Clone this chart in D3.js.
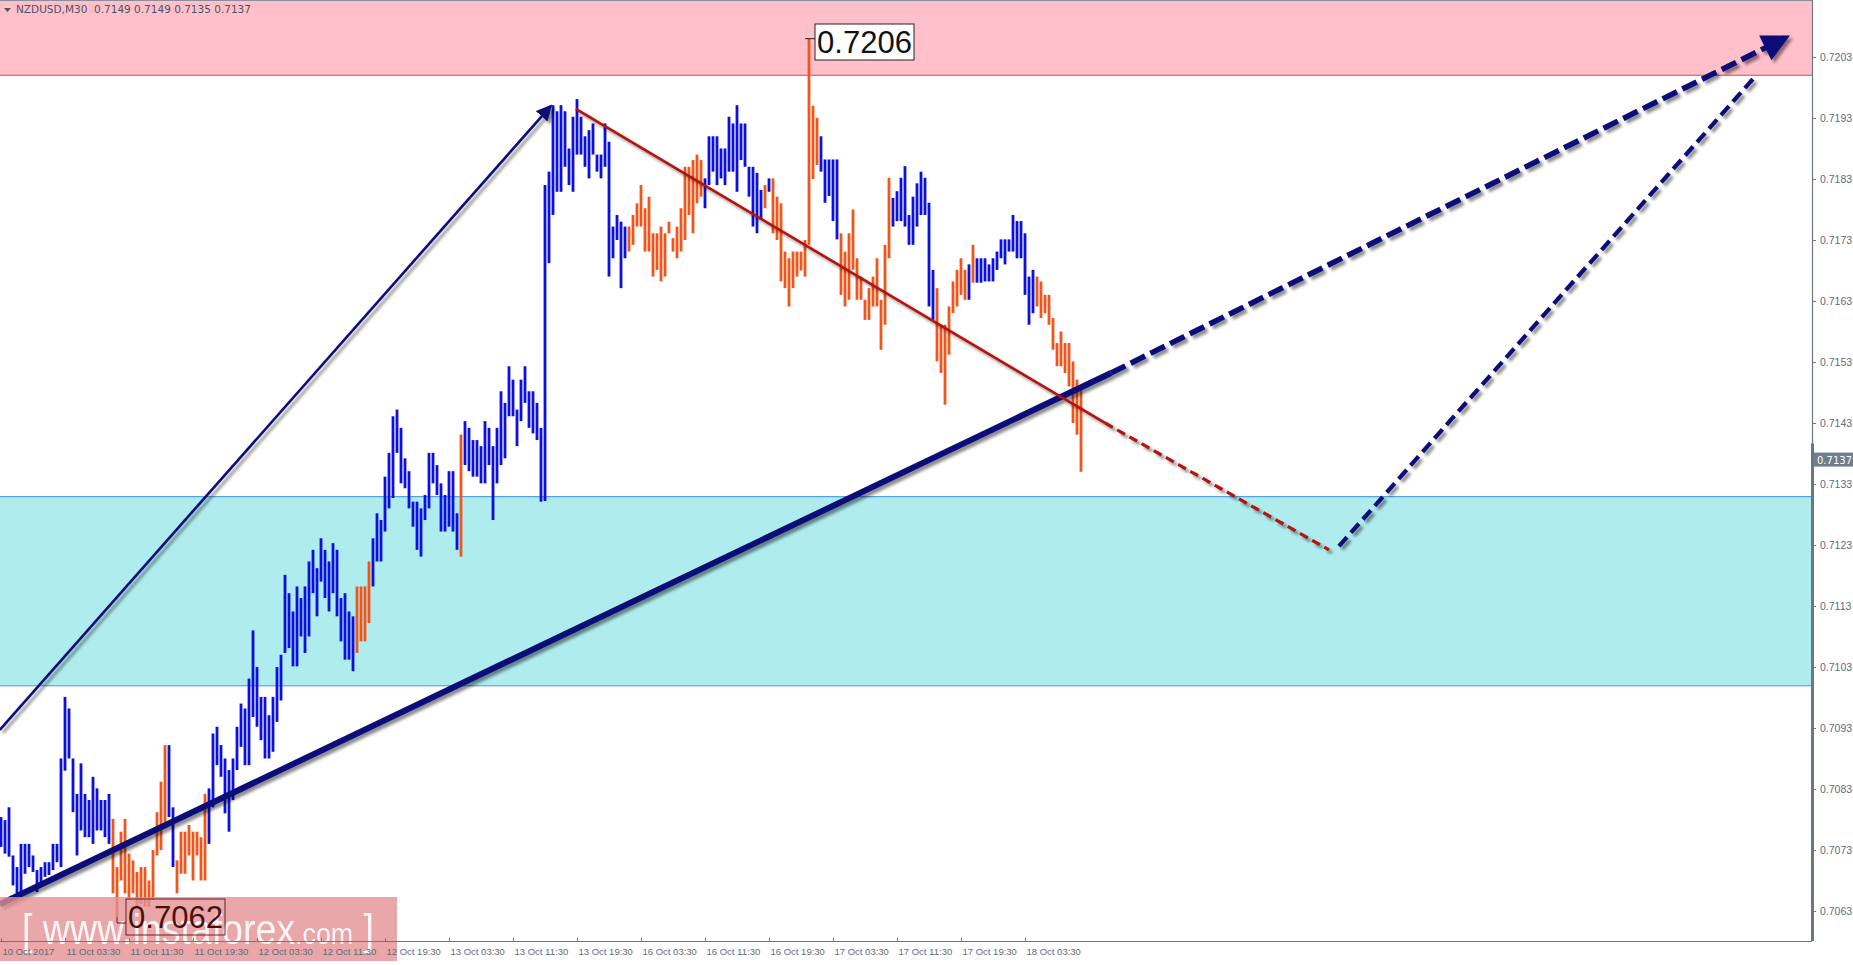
<!DOCTYPE html>
<html>
<head>
<meta charset="utf-8">
<script src="https://cdn.jsdelivr.net/npm/d3@7"></script>
<style>
  html, body { margin: 0; padding: 0; background: #fff; overflow: hidden; }
  svg { display: block; font-family: "DejaVu Sans", sans-serif; }
</style>
</head>
<body>
<div class="chart"></div>
<script>
const w = 1853;
const h = 965;
const plotRight = 1812;
const plotBottom = 941;

// bar highs / lows in pips (0.7078 -> 7078), M30 NZDUSD
const highs = [
  7078.4, 7077.9, 7080.0, 7072.1, 7070.2, 7074.0, 7074.0, 7074.0, 7072.1, 7069.7,
  7070.2, 7071.0, 7071.0, 7074.0, 7074.0, 7088.0, 7098.1, 7096.2, 7088.0, 7082.2,
  7087.2, 7082.2, 7081.2, 7085.0, 7083.1, 7081.2, 7081.2, 7082.2, 7078.1, 7070.2,
  7076.0, 7078.1, 7072.4, 7071.3, 7069.4, 7070.2, 7070.2, 7068.0, 7073.0, 7079.2,
  7084.2, 7090.2, 7090.2, 7080.0, 7071.3, 7076.0, 7076.0, 7077.1, 7076.0, 7076.0,
  7075.1, 7082.2, 7083.1, 7092.1, 7093.2, 7090.2, 7088.0, 7086.1, 7088.0, 7093.2,
  7097.0, 7096.2, 7101.1, 7109.0, 7103.0, 7098.1, 7098.1, 7095.1, 7098.1, 7103.0,
  7105.0, 7118.1, 7115.1, 7112.1, 7116.2, 7114.3, 7116.2, 7120.3, 7122.2, 7119.2,
  7124.1, 7122.2, 7120.3, 7123.3, 7122.2, 7114.3, 7115.1, 7112.1, 7111.3, 7116.2,
  7116.2, 7116.2, 7120.3, 7124.1, 7128.2, 7127.1, 7134.2, 7138.1, 7144.1, 7145.2,
  7142.2, 7137.2, 7135.1, 7130.1, 7130.1, 7129.0, 7131.2, 7138.1, 7138.1, 7136.1,
  7133.1, 7131.2, 7135.1, 7135.1, 7128.2, 7141.1, 7143.3, 7142.2, 7140.2, 7140.2,
  7139.2, 7143.3, 7142.2, 7139.2, 7142.2, 7148.2, 7146.3, 7152.3, 7150.1, 7145.2,
  7150.1, 7152.3, 7148.2, 7148.2, 7146.3, 7142.2, 7182.0, 7184.2, 7195.1, 7194.1,
  7195.1, 7194.1, 7188.0, 7193.2, 7196.1, 7193.2, 7190.0, 7191.0, 7192.1, 7187.0,
  7187.0, 7192.1, 7189.1, 7175.2, 7177.1, 7176.0, 7175.2, 7175.2, 7177.1, 7179.0,
  7182.0, 7178.2, 7180.1, 7174.1, 7174.1, 7175.2, 7174.1, 7176.0, 7173.3, 7175.2,
  7178.2, 7185.0, 7185.0, 7186.1, 7187.0, 7186.1, 7183.1, 7190.0, 7190.0, 7190.0,
  7188.0, 7188.0, 7193.2, 7192.1, 7195.1, 7192.1, 7192.1, 7185.0, 7185.0, 7184.0,
  7181.2, 7182.0, 7183.1, 7183.1, 7180.1, 7179.0, 7171.1, 7170.0, 7171.1, 7171.1,
  7171.1, 7173.0, 7206.0, 7195.0, 7193.0, 7190.0, 7186.2, 7186.2, 7186.2, 7186.2,
  7174.1, 7171.1, 7174.1, 7178.0, 7170.0, 7167.0, 7163.2, 7165.1, 7167.0, 7170.0,
  7163.2, 7172.2, 7183.2, 7179.9, 7181.0, 7183.2, 7185.1, 7177.1, 7180.1, 7182.3,
  7184.2, 7183.2, 7179.1, 7168.1, 7165.1, 7159.1, 7159.1, 7162.1, 7166.2, 7168.1,
  7170.0, 7168.1, 7169.0, 7172.2, 7170.0, 7170.0, 7170.0, 7169.0, 7170.0, 7171.1,
  7173.1, 7173.1, 7173.1, 7177.1, 7176.1, 7176.1, 7174.1, 7167.0, 7168.1, 7167.0,
  7166.2, 7164.0, 7164.0, 7160.2, 7156.1, 7158.0, 7156.1, 7156.1, 7153.1, 7150.1,
  7149.0
];
const lows = [
  7073.5, 7072.4, 7071.9, 7067.2, 7065.9, 7065.9, 7069.1, 7070.2, 7069.4, 7066.1,
  7067.5, 7068.6, 7068.9, 7069.7, 7071.0, 7070.2, 7086.0, 7088.0, 7079.2, 7072.1,
  7076.2, 7075.1, 7075.1, 7074.0, 7076.2, 7076.2, 7075.1, 7074.0, 7065.9, 7062.0,
  7068.0, 7065.9, 7064.8, 7065.9, 7063.7, 7064.2, 7063.7, 7063.7, 7064.8, 7072.1,
  7073.0, 7077.3, 7078.4, 7070.2, 7065.9, 7069.1, 7069.1, 7072.1, 7068.0, 7072.1,
  7068.0, 7068.0, 7074.0, 7080.0, 7086.9, 7085.0, 7079.0, 7076.0, 7081.2, 7086.1,
  7089.9, 7086.9, 7086.9, 7094.8, 7093.2, 7091.0, 7088.0, 7088.0, 7089.1, 7094.0,
  7097.5, 7105.3, 7106.1, 7103.1, 7103.1, 7108.0, 7105.3, 7108.0, 7115.1, 7111.3,
  7117.0, 7114.3, 7112.1, 7115.1, 7111.3, 7107.2, 7104.2, 7104.2, 7102.3, 7105.3,
  7107.2, 7107.2, 7110.2, 7116.2, 7120.3, 7120.3, 7125.2, 7129.0, 7130.7, 7138.1,
  7133.1, 7132.3, 7129.0, 7126.0, 7122.2, 7121.1, 7127.1, 7129.0, 7133.1, 7131.2,
  7125.2, 7125.2, 7126.0, 7125.2, 7122.2, 7121.1, 7136.1, 7135.1, 7134.2, 7134.2,
  7133.1, 7133.1, 7136.1, 7127.1, 7133.1, 7136.1, 7137.2, 7144.1, 7144.1, 7139.2,
  7143.3, 7146.3, 7142.2, 7141.3, 7140.2, 7130.1, 7130.2, 7169.2, 7177.1, 7180.9,
  7180.9, 7185.0, 7182.0, 7180.9, 7187.0, 7187.0, 7185.0, 7183.1, 7187.0, 7184.2,
  7183.1, 7185.0, 7167.0, 7170.0, 7173.0, 7165.1, 7170.0, 7171.1, 7172.2, 7175.2,
  7175.2, 7171.1, 7171.1, 7167.0, 7168.1, 7166.2, 7167.0, 7174.1, 7171.1, 7170.0,
  7171.1, 7173.0, 7177.1, 7174.1, 7179.0, 7180.1, 7178.2, 7182.0, 7184.2, 7182.0,
  7183.1, 7182.0, 7184.2, 7184.2, 7180.9, 7186.1, 7185.0, 7180.1, 7175.2, 7174.1,
  7176.3, 7178.2, 7180.9, 7174.1, 7173.0, 7166.2, 7165.1, 7162.1, 7165.1, 7167.0,
  7168.0, 7167.0, 7172.2, 7183.0, 7185.3, 7184.2, 7179.1, 7180.2, 7176.1, 7173.1,
  7164.0, 7162.1, 7163.2, 7168.1, 7163.2, 7163.2, 7159.9, 7159.9, 7162.1, 7162.1,
  7155.0, 7159.1, 7170.0, 7175.2, 7176.1, 7176.1, 7175.2, 7172.2, 7172.2, 7175.2,
  7177.1, 7177.1, 7162.1, 7159.9, 7153.1, 7151.2, 7146.0, 7154.2, 7161.0, 7162.1,
  7164.0, 7163.2, 7163.2, 7166.0, 7166.0, 7166.0, 7166.2, 7166.2, 7166.2, 7168.1,
  7170.0, 7169.0, 7171.1, 7171.1, 7170.0, 7170.0, 7164.0, 7159.1, 7161.0, 7162.1,
  7160.2, 7161.0, 7159.1, 7155.0, 7152.3, 7152.3, 7151.2, 7149.0, 7143.0, 7141.1,
  7135.0
];
// runs of bar direction: [count, up/down]
const dirRuns = [
  [28, "u"], [14, "d"], [2, "u"], [8, "d"], [37, "u"], [4, "d"], [22, "u"], [1, "d"],
  [41, "u"], [19, "d"], [15, "u"], [1, "d"], [1, "u"], [12, "d"], [5, "u"], [13, "d"],
  [11, "u"], [8, "d"], [1, "u"], [1, "d"], [15, "u"], [12, "d"]
];

const priceTicks = [0.7203, 0.7193, 0.7183, 0.7173, 0.7163, 0.7153, 0.7143, 0.7133,
  0.7123, 0.7113, 0.7103, 0.7093, 0.7083, 0.7073, 0.7063];
const timeLabels = ["10 Oct 2017", "11 Oct 03:30", "11 Oct 11:30", "11 Oct 19:30",
  "12 Oct 03:30", "12 Oct 11:30", "12 Oct 19:30", "13 Oct 03:30", "13 Oct 11:30",
  "13 Oct 19:30", "16 Oct 03:30", "16 Oct 11:30", "16 Oct 19:30", "17 Oct 03:30",
  "17 Oct 11:30", "17 Oct 19:30", "18 Oct 03:30"];
const labelEvery = 16; // bars between time labels

// zones
const resistZone = [0.7200, 0.72124];
const supportZone = [0.7100, 0.7131];
const lastPrice = 0.7137;
const highMark = { bar: 202, price: 0.7206 };
const lowMark = { bar: 29, price: 0.7062 };

// wave lines: [bar index, price]
const waveUp = [[-0.3, 0.70927], [137.5, 0.7195]];
const trendLine = [[-0.3, 0.70641], [277.5, 0.71512]];
const trendDash = [[277.5, 0.71512], [446, 0.72061]];
const redLine = [[143.7, 0.71945], [276, 0.7143]];
const redDash = [[276, 0.7143], [332, 0.71222]];
const blueDash = [[334.5, 0.71228], [438, 0.71994]];

const x = d3.scaleLinear().domain([0, 452.75]).range([1, plotRight]);
const y = d3.scaleLinear().domain([0.705808, 0.721234]).range([plotBottom, 0]);

const svg = d3.select(".chart").append("svg").attr("width", w).attr("height", h);

const defs = svg.append("defs");
const sh = defs.append("filter").attr("id", "shadow")
  .attr("x", "-10%").attr("y", "-10%").attr("width", "130%").attr("height", "130%");
sh.append("feDropShadow").attr("dx", 3).attr("dy", 3).attr("stdDeviation", 1.8)
  .attr("flood-color", "#000").attr("flood-opacity", 0.45);
defs.append("clipPath").attr("id", "plot").append("rect")
  .attr("x", 0).attr("y", 0).attr("width", plotRight).attr("height", plotBottom);

const plot = svg.append("g").attr("clip-path", "url(#plot)");

// zones
plot.append("rect").attr("x", 0).attr("width", plotRight)
  .attr("y", y(resistZone[1])).attr("height", y(resistZone[0]) - y(resistZone[1]))
  .attr("fill", "#ffc0cb");
plot.append("line").attr("x1", 0).attr("x2", plotRight)
  .attr("y1", y(resistZone[0])).attr("y2", y(resistZone[0]))
  .attr("stroke", "#e8453c").attr("stroke-width", 1);
plot.append("rect").attr("x", 0).attr("width", plotRight)
  .attr("y", y(supportZone[1])).attr("height", y(supportZone[0]) - y(supportZone[1]))
  .attr("fill", "#afecee");
supportZone.forEach((p) => {
  plot.append("line").attr("x1", 0).attr("x2", plotRight)
    .attr("y1", y(p) + 0.5).attr("y2", y(p) + 0.5)
    .attr("stroke", "#3c93e0").attr("stroke-width", 1);
});

// bars
const dirs = dirRuns.flatMap(([n, d]) => Array(n).fill(d));
const bars = highs.map((hi, i) => ({ i, hi: hi / 10000, lo: lows[i] / 10000, d: dirs[i] }));
plot.append("g").selectAll("line").data(bars).join("line")
  .attr("x1", (d) => x(d.i)).attr("x2", (d) => x(d.i))
  .attr("y1", (d) => y(d.hi)).attr("y2", (d) => y(d.lo))
  .attr("stroke", (d) => (d.d === "u" ? "#0b10e0" : "#f0561c"))
  .attr("stroke-width", 2.8);

// wave lines
const line = d3.line().x((d) => x(d[0])).y((d) => y(d[1]));
const navy = "#0a0a78";
defs.append("marker").attr("id", "headSmall").attr("viewBox", "0 0 10 10")
  .attr("refX", 9).attr("refY", 5).attr("markerWidth", 6).attr("markerHeight", 6)
  .attr("markerUnits", "strokeWidth").attr("orient", "auto")
  .append("path").attr("d", "M0,0 L10,5 L0,10 z").attr("fill", navy);
defs.append("marker").attr("id", "headBig").attr("viewBox", "0 0 10 10")
  .attr("refX", 8).attr("refY", 5).attr("markerWidth", 5.5).attr("markerHeight", 5)
  .attr("markerUnits", "strokeWidth").attr("orient", "auto")
  .append("path").attr("d", "M0,0 L10,5 L0,10 z").attr("fill", navy);

const lines = svg.append("g").attr("filter", "url(#shadow)").attr("fill", "none");
lines.append("path").attr("d", line(waveUp)).attr("stroke", navy)
  .attr("stroke-width", 2.6).attr("marker-end", "url(#headSmall)");
lines.append("path").attr("d", line(trendLine)).attr("stroke", navy).attr("stroke-width", 6);
lines.append("path").attr("d", line(trendDash)).attr("stroke", navy)
  .attr("stroke-width", 5.5).attr("stroke-dasharray", "16,6").attr("marker-end", "url(#headBig)");
lines.append("path").attr("d", line(redLine)).attr("stroke", "#b3120f").attr("stroke-width", 2.6);
lines.append("path").attr("d", line(redDash)).attr("stroke", "#b3120f")
  .attr("stroke-width", 3.2).attr("stroke-dasharray", "9,5");
lines.append("path").attr("d", line(blueDash)).attr("stroke", navy)
  .attr("stroke-width", 4.2).attr("stroke-dasharray", "12,6");

// price marks
function priceMark(m, bx, by, up) {
  const px = x(m.bar), py = y(m.price);
  const g = svg.append("g");
  if (up) {
    g.append("line").attr("x1", px - 4).attr("x2", px + 6).attr("y1", py).attr("y2", py)
      .attr("stroke", "#222").attr("stroke-width", 1);
  } else {
    g.append("polyline").attr("points", `${px},${py} ${px},${by + 24} ${bx},${by + 24}`)
      .attr("fill", "none").attr("stroke", "#5a1a1a").attr("stroke-width", 1);
  }
  g.append("rect").attr("x", bx).attr("y", by).attr("width", 99).attr("height", 36)
    .attr("fill", up ? "#fff" : "none").attr("stroke", up ? "#222" : "#6a2020");
  g.append("text").attr("x", bx + 49.5).attr("y", by + 29).attr("text-anchor", "middle")
    .attr("font-family", "Liberation Sans, sans-serif").attr("font-size", 31)
    .attr("fill", up ? "#111" : "#4a1010").text(d3.format(".4f")(m.price));
}
priceMark(highMark, 815, 24, true);

// watermark
const wm = svg.append("g");
wm.append("rect").attr("x", 0).attr("y", 897).attr("width", 397).attr("height", 64)
  .attr("fill", "#e49194").attr("opacity", 0.8);
priceMark(lowMark, 126, 899, false);
wm.append("text").attr("x", 22).attr("y", 944).attr("font-family", "Liberation Sans, sans-serif")
  .attr("fill", "#fff").attr("font-size", 42).attr("opacity", 0.9)
  .attr("textLength", 352).attr("lengthAdjust", "spacingAndGlyphs")
  .html('[ www.instaforex<tspan font-size="30">.com</tspan> ]');

// axes
svg.append("line").attr("x1", plotRight + 0.5).attr("x2", plotRight + 0.5)
  .attr("y1", 0).attr("y2", plotBottom).attr("stroke", "#6b7785").attr("stroke-width", 1.2);
svg.append("line").attr("x1", 0).attr("x2", plotRight)
  .attr("y1", plotBottom + 0.5).attr("y2", plotBottom + 0.5).attr("stroke", "#6b7785").attr("stroke-width", 1.2);
svg.append("line").attr("x1", 0).attr("x2", plotRight).attr("y1", 0.5).attr("y2", 0.5)
  .attr("stroke", "#8a8f99");

const yAxis = d3.axisRight(y).tickValues(priceTicks).tickSize(3).tickPadding(4)
  .tickFormat(d3.format(".4f"));
svg.append("g").attr("transform", `translate(${plotRight + 1},0)`).call(yAxis)
  .call((g) => g.select(".domain").remove())
  .call((g) => g.selectAll("text").attr("fill", "#5f6b78").attr("font-size", 10.5))
  .call((g) => g.selectAll("line").attr("stroke", "#6b7785"));

// last price label
const lp = svg.append("g").attr("transform", `translate(${plotRight + 2},${y(lastPrice)})`);
lp.append("rect").attr("x", 0).attr("y", -7).attr("width", 39).attr("height", 14).attr("fill", "#6f7d8c");
lp.append("text").attr("x", 3).attr("y", 4).attr("fill", "#fff").attr("font-size", 10)
  .text(d3.format(".4f")(lastPrice));
svg.append("line").attr("x1", plotRight + 0.5).attr("x2", plotRight + 0.5)
  .attr("y1", y(lastPrice) - 16).attr("y2", plotBottom).attr("stroke", "#6b7785").attr("stroke-width", 3);

const xAxis = d3.axisBottom(x).tickValues(timeLabels.map((t, k) => k * labelEvery))
  .tickSize(-4).tickFormat((d, k) => timeLabels[k]);
svg.append("g").attr("transform", `translate(0,${plotBottom + 1})`).call(xAxis)
  .call((g) => g.select(".domain").remove())
  .call((g) => g.selectAll("line").attr("stroke", "#6b7785"))
  .call((g) => g.selectAll("text").attr("text-anchor", "start").attr("dx", 1).attr("y", 6)
    .attr("fill", "#5f6b78").attr("font-size", 9.5));

// header
const hd = svg.append("g").attr("transform", "translate(4,13)");
hd.append("path").attr("d", "M0,-5 L7,-5 L3.5,-1 z").attr("fill", "#555");
hd.append("text").attr("x", 12).attr("y", 0).attr("fill", "#4d5260").attr("font-size", 10.5)
  .attr("xml:space", "preserve").text("NZDUSD,M30  0.7149 0.7149 0.7135 0.7137");
</script>
</body>
</html>
